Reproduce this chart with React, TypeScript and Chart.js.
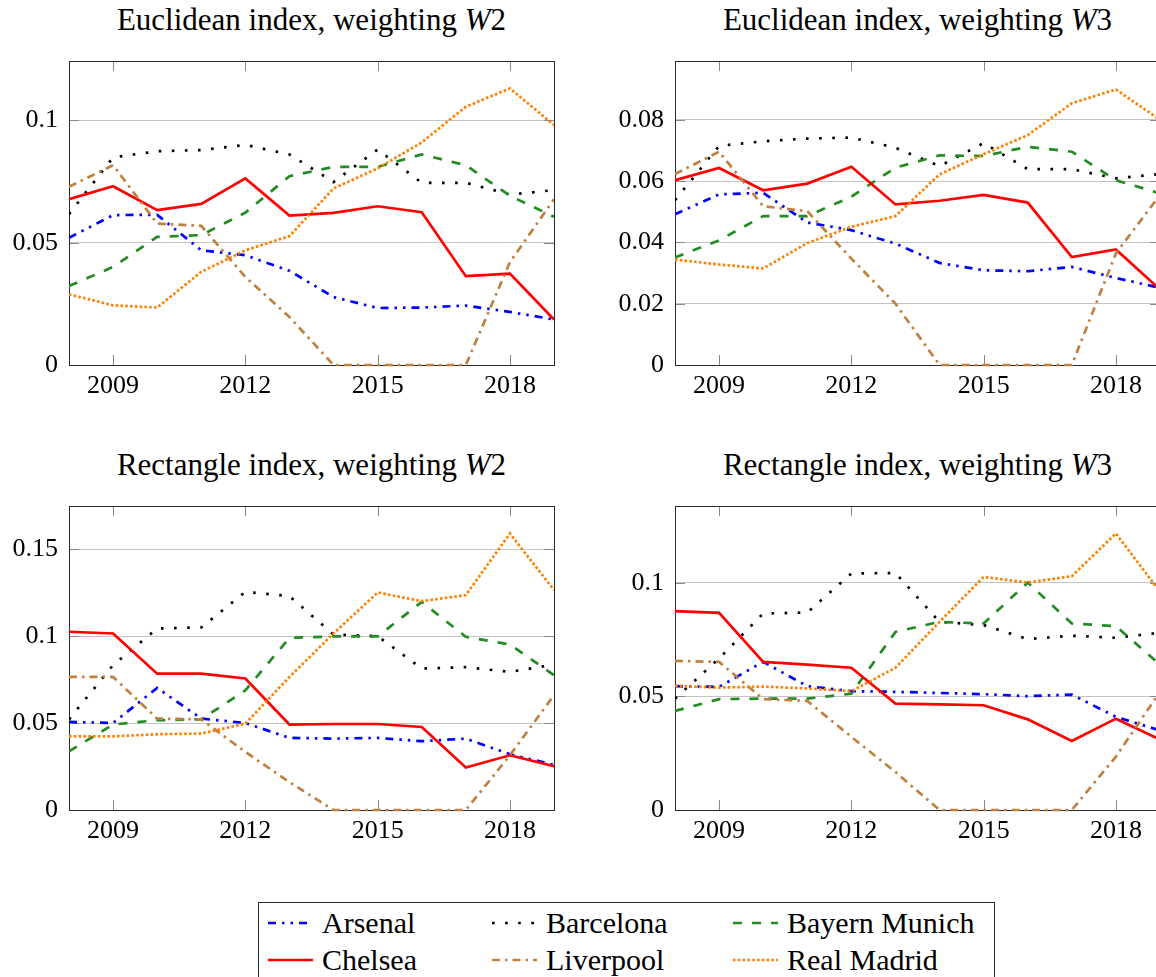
import React, { useEffect, useRef } from 'react';
import { Chart, registerables } from 'chart.js';

Chart.register(...registerables);

// ---------- data ----------
const YEARS = [2008, 2009, 2010, 2011, 2012, 2013, 2014, 2015, 2016, 2017, 2018, 2019];
const X_TICKS = [2009, 2012, 2015, 2018];
const TEAMS = ['Arsenal', 'Barcelona', 'Bayern Munich', 'Chelsea', 'Liverpool', 'Real Madrid'];

// Euclidean index, weighting W2
const EUC_W2_ARSENAL = [0.052, 0.0613, 0.0614, 0.0469, 0.0449, 0.0385, 0.0278, 0.0233, 0.0235, 0.0243, 0.0217, 0.0186];
const EUC_W2_BARCELONA = [0.0617, 0.0849, 0.0874, 0.0879, 0.09, 0.0861, 0.0748, 0.0881, 0.0745, 0.0745, 0.0697, 0.0715];
const EUC_W2_BAYERN = [0.0323, 0.0401, 0.0524, 0.0531, 0.0623, 0.0772, 0.081, 0.081, 0.0861, 0.0817, 0.0692, 0.0606];
const EUC_W2_CHELSEA = [0.0678, 0.0731, 0.0633, 0.0659, 0.0763, 0.0611, 0.0622, 0.0649, 0.0625, 0.0363, 0.0374, 0.0186];
const EUC_W2_LIVERPOOL = [0.0729, 0.0817, 0.0578, 0.0569, 0.036, 0.0196, 0, 0, 0, 0, 0.042, 0.0678];
const EUC_W2_REALMADRID = [0.0289, 0.0244, 0.0235, 0.0381, 0.0469, 0.0527, 0.0722, 0.0804, 0.091, 0.1056, 0.1131, 0.0981];
const EUC_W2_YTICKS = [0, 0.05, 0.1];

// Euclidean index, weighting W3
const EUC_W3_ARSENAL = [0.0492, 0.0557, 0.0562, 0.0465, 0.044, 0.0396, 0.0333, 0.0309, 0.0306, 0.032, 0.0284, 0.0252];
const EUC_W3_BARCELONA = [0.0538, 0.0715, 0.073, 0.0739, 0.0742, 0.0709, 0.0649, 0.0724, 0.0639, 0.0639, 0.0609, 0.0623];
const EUC_W3_BAYERN = [0.0351, 0.0407, 0.0486, 0.0486, 0.0549, 0.0644, 0.0684, 0.0682, 0.0712, 0.0696, 0.0603, 0.056];
const EUC_W3_CHELSEA = [0.0603, 0.0643, 0.057, 0.0592, 0.0647, 0.0524, 0.0536, 0.0555, 0.053, 0.0352, 0.0377, 0.0246];
const EUC_W3_LIVERPOOL = [0.0623, 0.0696, 0.0518, 0.0502, 0.0347, 0.02, 0, 0, 0, 0, 0.0364, 0.0555];
const EUC_W3_REALMADRID = [0.0344, 0.0328, 0.0315, 0.0398, 0.0451, 0.0486, 0.0622, 0.0688, 0.075, 0.0854, 0.0899, 0.08];
const EUC_W3_YTICKS = [0, 0.02, 0.04, 0.06, 0.08];

// Rectangle index, weighting W2
const REC_W2_ARSENAL = [0.0507, 0.0501, 0.0703, 0.0526, 0.0501, 0.0415, 0.0411, 0.0415, 0.0396, 0.0411, 0.0321, 0.026];
const REC_W2_BARCELONA = [0.0522, 0.0834, 0.1045, 0.1051, 0.1256, 0.1231, 0.101, 0.1001, 0.0814, 0.0822, 0.0795, 0.0837];
const REC_W2_BAYERN = [0.0338, 0.0492, 0.0517, 0.0522, 0.0689, 0.0991, 0.0999, 0.0999, 0.1198, 0.0997, 0.0953, 0.0776];
const REC_W2_CHELSEA = [0.1026, 0.1016, 0.0785, 0.0785, 0.0757, 0.0492, 0.0495, 0.0495, 0.0478, 0.0244, 0.0315, 0.0252];
const REC_W2_LIVERPOOL = [0.0766, 0.0766, 0.0526, 0.0522, 0.0334, 0.0161, 0, 0, 0, 0, 0.0315, 0.0661];
const REC_W2_REALMADRID = [0.0424, 0.0424, 0.0436, 0.044, 0.0497, 0.0766, 0.1016, 0.1252, 0.1202, 0.1237, 0.1592, 0.1266];
const REC_W2_YTICKS = [0, 0.05, 0.1, 0.15];

// Rectangle index, weighting W3
const REC_W3_ARSENAL = [0.0545, 0.0542, 0.0652, 0.0545, 0.0523, 0.052, 0.0515, 0.051, 0.0501, 0.0508, 0.041, 0.035];
const REC_W3_BARCELONA = [0.049, 0.0667, 0.0865, 0.0869, 0.1041, 0.1043, 0.0828, 0.0814, 0.0752, 0.0767, 0.0758, 0.078];
const REC_W3_BAYERN = [0.0436, 0.0488, 0.049, 0.049, 0.0512, 0.0784, 0.0828, 0.0821, 0.1001, 0.0821, 0.0809, 0.064];
const REC_W3_CHELSEA = [0.0875, 0.0868, 0.0652, 0.064, 0.0626, 0.0468, 0.0465, 0.0461, 0.0399, 0.0304, 0.0402, 0.031];
const REC_W3_LIVERPOOL = [0.0656, 0.0652, 0.0488, 0.048, 0.0322, 0.0167, 0, 0, 0, 0, 0.0235, 0.052];
const REC_W3_REALMADRID = [0.0546, 0.0539, 0.0543, 0.0535, 0.0523, 0.0626, 0.0828, 0.1026, 0.1001, 0.1029, 0.1217, 0.096];
const REC_W3_YTICKS = [0, 0.05, 0.1];

// ---------- styles ----------
const FONT = '"Liberation Serif", "DejaVu Serif", serif';
const COLORS = ['#0000ff', '#000000', '#228b22', '#ff0000', '#bf8040', '#ff8000'];
const DASHES: number[][] = [
  [8, 6, 2.5, 6, 2.5, 6],
  [2.6, 10.5],
  [9, 10],
  [],
  [8, 5, 2.5, 5],
  [2.6, 2.2],
];
const LINE_W = 2.7;
const GRID_COLOR = '#c4c4c4';
const TICK_COLOR = '#8a8a8a';
const FRAME_COLOR = '#2a2a2a';
const TICK_LEN = 10;
const TICK_FONT_SIZE = 26;
const TITLE_FONT_SIZE = 31;
const LEGEND_FONT_SIZE = 30;

const framePlugin = {
  id: 'frame',
  beforeDatasetsDraw(chart: any) {
    const { ctx, chartArea: a, scales } = chart;
    const x = scales.x;
    const y = scales.y;
    ctx.save();
    ctx.lineWidth = 1;
    ctx.strokeStyle = TICK_COLOR;
    ctx.setLineDash([]);
    ctx.beginPath();
    for (const t of x.ticks) {
      const p = Math.round(x.getPixelForValue(t.value)) + 0.5;
      ctx.moveTo(p, a.top);
      ctx.lineTo(p, a.top + TICK_LEN);
      ctx.moveTo(p, a.bottom);
      ctx.lineTo(p, a.bottom - TICK_LEN);
    }
    for (const t of y.ticks) {
      const p = Math.round(y.getPixelForValue(t.value)) + 0.5;
      ctx.moveTo(a.left, p);
      ctx.lineTo(a.left + TICK_LEN, p);
      ctx.moveTo(a.right, p);
      ctx.lineTo(a.right - TICK_LEN, p);
    }
    ctx.stroke();
    ctx.strokeStyle = FRAME_COLOR;
    ctx.strokeRect(
      Math.round(a.left) + 0.5,
      Math.round(a.top) + 0.5,
      Math.round(a.right - a.left),
      Math.round(a.bottom - a.top)
    );
    ctx.restore();
  },
};

const fmt = (v: number) => String(Number(Number(v).toFixed(4)));

const zeroPad = (s: any) => {
  s.paddingTop = 0;
  s.paddingBottom = 0;
  s.paddingLeft = 0;
  s.paddingRight = 0;
};

type Panel = {
  series: number[][];
  yMax: number;
  yTicks: number[];
  yWidth: number;
  padRight: number;
};

function makeConfig(p: Panel): any {
  return {
    type: 'line',
    data: {
      datasets: TEAMS.map((team, i) => ({
        label: team,
        data: YEARS.map((yr, j) => ({ x: yr, y: p.series[i][j] })),
        borderColor: COLORS[i],
        backgroundColor: COLORS[i],
        borderDash: DASHES[i],
        borderWidth: LINE_W,
        borderCapStyle: 'butt',
        borderJoinStyle: 'miter',
        pointRadius: 0,
        tension: 0,
        fill: false,
        order: TEAMS.length - i,
        clip: { left: 0, right: 0, top: 0, bottom: 2 },
      })),
    },
    options: {
      responsive: false,
      maintainAspectRatio: false,
      animation: false,
      events: [],
      layout: { padding: { top: 11, right: p.padRight, left: 0, bottom: 0 } },
      plugins: {
        legend: { display: false },
        tooltip: { enabled: false },
        title: { display: false },
      },
      scales: {
        x: {
          type: 'linear',
          min: 2008,
          max: 2019,
          grid: { display: false, drawTicks: false },
          border: { display: false },
          afterBuildTicks: (s: any) => {
            s.ticks = X_TICKS.map((v) => ({ value: v }));
          },
          afterFit: (s: any) => {
            s.height = 35;
            zeroPad(s);
          },
          ticks: {
            autoSkip: false,
            maxRotation: 0,
            minRotation: 0,
            padding: 6,
            color: '#000',
            font: { family: FONT, size: TICK_FONT_SIZE },
            callback: (v: any) => String(v),
          },
        },
        y: {
          type: 'linear',
          min: 0,
          max: p.yMax,
          grid: { color: GRID_COLOR, lineWidth: 1, drawTicks: false },
          border: { display: false },
          afterBuildTicks: (s: any) => {
            s.ticks = p.yTicks.map((v) => ({ value: v }));
          },
          afterFit: (s: any) => {
            s.width = p.yWidth;
            zeroPad(s);
          },
          ticks: {
            padding: 11,
            color: '#000',
            font: { family: FONT, size: TICK_FONT_SIZE },
            callback: (v: any) => fmt(v),
          },
        },
      },
    },
    plugins: [framePlugin],
  };
}

function ChartBox(props: { panel: Panel; left: number; top: number; width: number; height: number }) {
  const ref = useRef<HTMLCanvasElement | null>(null);
  useEffect(() => {
    if (!ref.current) return;
    const chart = new Chart(ref.current, makeConfig(props.panel));
    return () => chart.destroy();
  }, []);
  return (
    <canvas
      ref={ref}
      width={props.width}
      height={props.height}
      style={{
        position: 'absolute',
        left: props.left,
        top: props.top,
        width: props.width,
        height: props.height,
      }}
    />
  );
}

function Title(props: { left: number; width: number; top: number; weight: string; name: string }) {
  return (
    <div
      style={{
        position: 'absolute',
        left: props.left,
        width: props.width,
        top: props.top,
        textAlign: 'center',
        fontFamily: FONT,
        fontSize: TITLE_FONT_SIZE,
        lineHeight: TITLE_FONT_SIZE + 'px',
        color: '#000',
        whiteSpace: 'nowrap',
      }}
    >
      {props.name}, weighting <i>W</i>
      {props.weight}
    </div>
  );
}

const LEGEND_COL_X = [268, 492, 733];
const LEGEND_TEXT_GAP = 54;
const LEGEND_ROW_Y = [923, 960];

function Legend() {
  return (
    <>
      <div
        style={{
          position: 'absolute',
          left: 258,
          top: 902,
          width: 737,
          height: 90,
          border: '1px solid #2a2a2a',
          boxSizing: 'border-box',
        }}
      />
      {TEAMS.map((team, i) => {
        const col = i % 3;
        const row = Math.floor(i / 3);
        const x = LEGEND_COL_X[col];
        const y = LEGEND_ROW_Y[row];
        return (
          <React.Fragment key={team}>
            <svg
              width={45}
              height={10}
              style={{ position: 'absolute', left: x, top: y - 5 }}
            >
              <line
                x1={0}
                y1={5}
                x2={45}
                y2={5}
                stroke={COLORS[i]}
                strokeWidth={LINE_W}
                strokeDasharray={DASHES[i].length ? DASHES[i].join(' ') : undefined}
                strokeLinecap="butt"
              />
            </svg>
            <div
              style={{
                position: 'absolute',
                left: x + LEGEND_TEXT_GAP,
                top: y - 15,
                fontFamily: FONT,
                fontSize: LEGEND_FONT_SIZE,
                lineHeight: LEGEND_FONT_SIZE + 'px',
                whiteSpace: 'nowrap',
                color: '#000',
              }}
            >
              {team}
            </div>
          </React.Fragment>
        );
      })}
    </>
  );
}

export default function App() {
  const p1: Panel = {
    series: [EUC_W2_ARSENAL, EUC_W2_BARCELONA, EUC_W2_BAYERN, EUC_W2_CHELSEA, EUC_W2_LIVERPOOL, EUC_W2_REALMADRID],
    yMax: 0.1243,
    yTicks: EUC_W2_YTICKS,
    yWidth: 69,
    padRight: 26,
  };
  const p2: Panel = {
    series: [EUC_W3_ARSENAL, EUC_W3_BARCELONA, EUC_W3_BAYERN, EUC_W3_CHELSEA, EUC_W3_LIVERPOOL, EUC_W3_REALMADRID],
    yMax: 0.0992,
    yTicks: EUC_W3_YTICKS,
    yWidth: 95,
    padRight: 20,
  };
  const p3: Panel = {
    series: [REC_W2_ARSENAL, REC_W2_BARCELONA, REC_W2_BAYERN, REC_W2_CHELSEA, REC_W2_LIVERPOOL, REC_W2_REALMADRID],
    yMax: 0.175,
    yTicks: REC_W2_YTICKS,
    yWidth: 69,
    padRight: 26,
  };
  const p4: Panel = {
    series: [REC_W3_ARSENAL, REC_W3_BARCELONA, REC_W3_BAYERN, REC_W3_CHELSEA, REC_W3_LIVERPOOL, REC_W3_REALMADRID],
    yMax: 0.1338,
    yTicks: REC_W3_YTICKS,
    yWidth: 95,
    padRight: 20,
  };
  return (
    <div
      style={{
        position: 'absolute',
        left: 0,
        top: 0,
        width: 1156,
        height: 977,
        overflow: 'hidden',
        background: '#fff',
      }}
    >
      <Title left={69} width={485} top={4} name="Euclidean index" weight="2" />
      <Title left={675} width={485} top={4} name="Euclidean index" weight="3" />
      <Title left={69} width={485} top={449} name="Rectangle index" weight="2" />
      <Title left={675} width={485} top={449} name="Rectangle index" weight="3" />
      <ChartBox panel={p1} left={0} top={50} width={580} height={350} />
      <ChartBox panel={p2} left={580} top={50} width={600} height={350} />
      <ChartBox panel={p3} left={0} top={495} width={580} height={350} />
      <ChartBox panel={p4} left={580} top={495} width={600} height={350} />
      <Legend />
    </div>
  );
}
